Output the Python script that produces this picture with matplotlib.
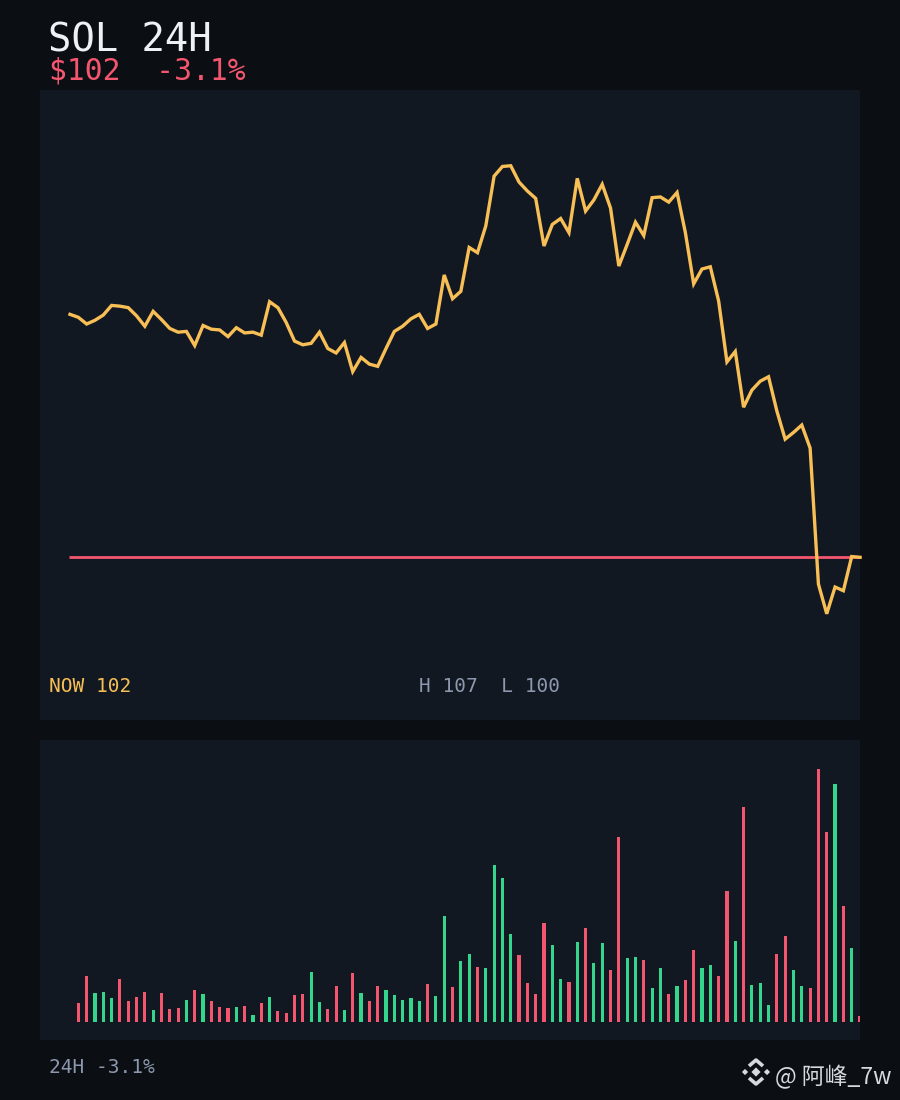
import matplotlib
matplotlib.use("Agg")
import matplotlib.pyplot as plt
import numpy as np

# ---------------- data ----------------
prices = [
    105.26, 105.22, 105.13, 105.18, 105.25, 105.38, 105.37, 105.35, 105.24, 105.10,
    105.30, 105.19, 105.07, 105.02, 105.03, 104.84, 105.11, 105.06, 105.05, 104.96,
    105.08, 105.01, 105.02, 104.98, 105.43, 105.35, 105.15, 104.90, 104.85, 104.87,
    105.02, 104.80, 104.74, 104.88, 104.49, 104.68, 104.59, 104.56, 104.80, 105.03,
    105.10, 105.20, 105.26, 105.07, 105.13, 105.79, 105.47, 105.57, 106.16, 106.09,
    106.45, 107.12, 107.25, 107.26, 107.04, 106.92, 106.82, 106.18, 106.47, 106.55,
    106.36, 107.09, 106.65, 106.80, 107.01, 106.69, 105.91, 106.20, 106.50, 106.32,
    106.83, 106.84, 106.77, 106.90, 106.36, 105.67, 105.87, 105.90, 105.44, 104.62,
    104.76, 104.01, 104.24, 104.36, 104.42, 103.96, 103.58, 103.67, 103.77, 103.46,
    101.63, 101.23, 101.59, 101.54, 102.00, 101.99,
]

# volume for each interval (bars 2..96)
volumes = [
    19, 46, 29, 30, 24, 43, 21, 25, 30, 12,
    29, 13, 14, 22, 32, 28, 21, 15, 14, 15,
    16, 7, 19, 25, 11, 9, 27, 28, 50, 20,
    13, 36, 12, 49, 29, 21, 36, 32, 27, 22,
    24, 21, 38, 26, 106, 35, 61, 68, 55, 54,
    157, 144, 88, 67, 39, 28, 99, 77, 43, 40,
    80, 94, 59, 79, 52, 185, 64, 65, 62, 34,
    54, 28, 36, 42, 72, 54, 57, 46, 131, 81,
    215, 37, 39, 17, 68, 86, 52, 36, 34, 253,
    190, 238, 116, 74, 6,
]

title = "SOL 24H"
subtitle = "$102  -3.1%"
now_label = "NOW 102"
hl_label = "H 107  L 100"
footer = "24H -3.1%"
watermark = "@ 阿峰_7w"

# ---------------- style ----------------
BG = "#0b0e13"
PANEL = "#121822"
GOLD = "#f7bf55"
RED = "#f5566f"
GREEN = "#33d68c"
GRAY = "#8c98ae"
WHITE = "#eef1f5"

W, H = 900, 1100
fig = plt.figure(figsize=(9, 11), dpi=100, facecolor=BG)


def ax_px(x0, y0, x1, y1):
    return fig.add_axes([x0 / W, 1 - y1 / H, (x1 - x0) / W, (y1 - y0) / H])


def ftext(x, y, s, **kw):
    return fig.text(x / W, 1 - y / H, s, **kw)


n = len(prices)
xs = np.arange(n)
step = (860 - 70) / (n - 1)
xlim = (-(70 - 40) / step, n - 1)

# price panel
ax = ax_px(40, 90, 860, 720)
ax.set_facecolor(PANEL)
ax.set_xlim(*xlim)
k = 74.3
ax.set_ylim(prices[-1] - (720 - 557.3) / k, prices[-1] + (557.3 - 90) / k)
ax.hlines(prices[-1], xs[0] - 0.1, xs[-1] + 0.1, color=RED, lw=2.0, clip_on=False, zorder=2)
ax.plot(xs, prices, color=GOLD, lw=2.4, solid_joinstyle="miter", clip_on=False, zorder=3)
for s in ax.spines.values():
    s.set_visible(False)
ax.set_xticks([])
ax.set_yticks([])

# volume panel
vx = xs[1:]
vcol = [GREEN if prices[i] >= prices[i - 1] else RED for i in range(1, n)]
axv = ax_px(40, 740, 860, 1040)
axv.set_facecolor(PANEL)
axv.set_xlim(*xlim)
axv.set_ylim(-18, 282)
axv.bar(vx, volumes, width=3.2 / step, color=vcol, linewidth=0)
for s in axv.spines.values():
    s.set_visible(False)
axv.set_xticks([])
axv.set_yticks([])

mono = "DejaVu Sans Mono"
ftext(48, 52, title, color=WHITE, fontsize=28, family=mono, va="baseline", ha="left")
ftext(49, 79, subtitle, color=RED, fontsize=21.3, family=mono, va="baseline", ha="left")
ftext(49, 692, now_label, color=GOLD, fontsize=14, family=mono, va="baseline", ha="left")
ftext(419, 692, hl_label, color=GRAY, fontsize=14, family=mono, va="baseline", ha="left")
ftext(49, 1073, footer, color=GRAY, fontsize=14, family=mono, va="baseline", ha="left")

# watermark with simple diamond logo
axl = fig.add_axes([0, 0, 1, 1], facecolor="none")
axl.set_xlim(0, W)
axl.set_ylim(H, 0)
axl.axis("off")
lc = "#d6d9de"
axl.scatter([756, 745, 767], [1072, 1072, 1072], marker="D", s=[22, 10, 10], color=lc, linewidths=0)
axl.plot([749, 756, 763], [1066, 1060, 1066], color=lc, lw=2.6, solid_capstyle="butt")
axl.plot([749, 756, 763], [1078, 1084, 1078], color=lc, lw=2.6, solid_capstyle="butt")
ftext(775, 1084, watermark, color=lc, fontsize=16.5,
      family=["Noto Sans CJK SC", "DejaVu Sans"], va="baseline", ha="left")

fig.savefig("out.png", dpi=100, facecolor=BG)
